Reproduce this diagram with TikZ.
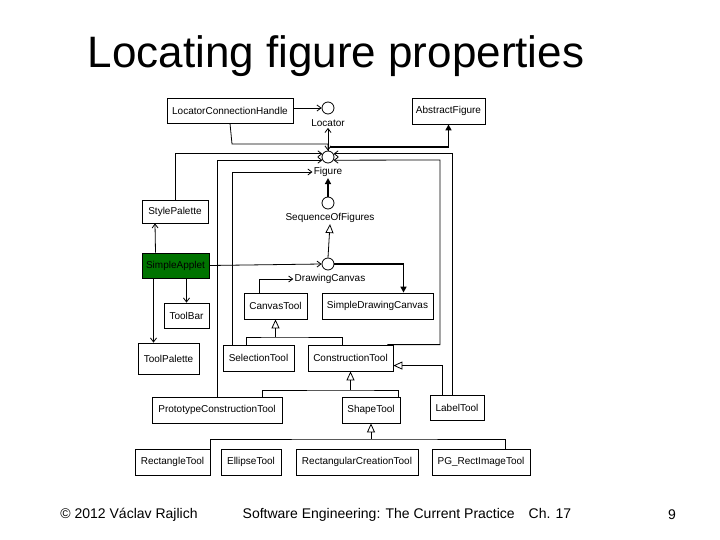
\documentclass[tikz,border=0pt]{standalone}
\usepackage{fontspec}
\setmainfont{Liberation Sans}
\usetikzlibrary{arrows.meta,calc}
\tikzset{
  cls/.style={draw,fill=white,inner sep=1pt,font=\fontsize{10}{11}\selectfont},
  ifc/.style={draw,circle,minimum size=12pt,inner sep=0pt},
  lbl/.style={font=\fontsize{10}{11}\selectfont,inner sep=1pt},
  use/.style={-{Straight Barb[length=4pt,width=6pt]}},
  gen/.style={-{Triangle[open,length=9pt,width=8pt]}},
  agg/.style={line width=1.8pt,-{Triangle[length=6pt,width=6pt]}}
}
\begin{document}
\begin{tikzpicture}[x=1pt,y=-1pt,line width=0.8pt]
\useasboundingbox (0,0) rectangle (720,540);
%title and footer
\node[font=\fontsize{44}{48}\selectfont] at (336,56) {Locating figure properties};
\node[font=\fontsize{14}{16}\selectfont] at (129,515) {© 2012 Václav Rajlich};
\node[font=\fontsize{14}{16}\selectfont] at (407,515) {Software Engineering: The Current Practice\quad Ch. 17};
\node[font=\fontsize{14}{16}\selectfont] at (672,515) {9};

%classes
\node[cls,minimum width=126pt,minimum height=25pt] (lch) at (230,110.5) {LocatorConnectionHandle};
\node[cls,minimum width=73pt,minimum height=26pt] (af) at (448.5,111) {AbstractFigure};
\node[cls,minimum width=66pt,minimum height=23pt] (sp) at (175,211.5) {StylePalette};
\node[cls,minimum width=67pt,minimum height=25pt,fill=green!45!black] (sa) at (175.5,265.5) {SimpleApplet};
\node[cls,minimum width=45pt,minimum height=25pt] (tb) at (186.5,315.5) {ToolBar};
\node[cls,minimum width=61pt,minimum height=31pt] (tp) at (168.5,358.5) {ToolPalette};
\node[cls,minimum width=63pt,minimum height=26pt] (ct) at (275.5,306) {CanvasTool};
\node[cls,minimum width=111pt,minimum height=26pt] (sdc) at (377.5,306) {SimpleDrawingCanvas};
\node[cls,minimum width=71pt,minimum height=26pt] (st) at (258.5,358) {SelectionTool};
\node[cls,minimum width=85pt,minimum height=26pt] (cot) at (350.5,358) {ConstructionTool};
\node[cls,minimum width=130pt,minimum height=26pt] (pct) at (217,410) {PrototypeConstructionTool};
\node[cls,minimum width=58pt,minimum height=26pt] (sht) at (371,410) {ShapeTool};
\node[cls,minimum width=54pt,minimum height=25pt] (lt) at (457,407.5) {LabelTool};
\node[cls,minimum width=75pt,minimum height=26pt] (rt) at (172.5,462) {RectangleTool};
\node[cls,minimum width=60pt,minimum height=26pt] (et) at (251,462) {EllipseTool};
\node[cls,minimum width=122pt,minimum height=26pt] (rct) at (357,462) {RectangularCreationTool};
\node[cls,minimum width=98pt,minimum height=26pt] (pg) at (481,462) {PG\_RectImageTool};

%interfaces
\node[ifc] (loc) at (328,108) {};
\node[lbl] (locl) at (328,123) {Locator};
\node[ifc] (fig) at (328,157) {};
\node[lbl] (figl) at (328,172) {Figure};
\node[ifc] (sof) at (328,203) {};
\node[lbl] (sofl) at (330,218) {SequenceOfFigures};
\node[ifc] (dc) at (328,264) {};
\node[lbl] (dcl) at (330,279) {DrawingCanvas};

%helper points
\coordinate (c1) at (232,144);
\coordinate (c2) at (330,147);
\coordinate (c3) at (440,160);
\coordinate (t1) at (275.5,337);
\coordinate (t2) at (350.5,390);
\coordinate (t3) at (371,439);

%connectors
\draw[use] (lch.east |- loc.west) -- (loc.west);
\draw[use] (lch.south) -- (c1) -- (c1 -| fig.north) -- (fig.north);
\draw[use] (fig.north) -- (locl.south);
\draw[agg] (c2) -| (af.south);
\draw[use] (sp.north) |- (fig.150);
\draw[use] ([xshift=-5pt]lt.north) |- (fig.30);
\draw[use] (pct.north) |- (fig.210);
\draw[use] (cot.20) -| (c3) -- (fig.-30);
\draw[use] ([xshift=-26pt]st.north) |- (figl.west);
\draw[agg] (sof.north) -- (figl.south);
\draw[gen] (dc.north) -- (sofl.south);
\draw[use] (sa.east) -- (dc.west);
\draw[agg] (dc.east) -| ([xshift=26pt]sdc.north);
\draw[use] ([xshift=-16pt]ct.north) |- (dcl.west);
\draw[use] ([xshift=-20pt]sa.north) -- ([xshift=-20pt]sp.south);
\draw[use] ([xshift=-15pt]tp.north |- sa.south) -- ([xshift=-15pt]tp.north);
\draw[use] (tb.north |- sa.south) -- (tb.north);
\draw ([xshift=-12pt]st.north) |- (t1) -| ([xshift=-8pt]cot.north);
\draw[gen] (t1) -- (ct.south);
\draw ([xshift=45pt]pct.north) |- (t2) -| ([xshift=27pt]sht.north);
\draw[gen] (t2) -- (cot.south);
\draw[gen] ([xshift=-15pt]lt.north) |- (cot.-10);
\draw (rt.north -| 210,0) |- (t3) -| ([xshift=24pt]pg.north);
\draw (et.north -| 281,0) -- (et.north -| 281,439);
\draw (rct.north -| 405,0) -- (rct.north -| 405,439);
\draw[gen] (t3) -- (sht.south);
\end{tikzpicture}
\end{document}
